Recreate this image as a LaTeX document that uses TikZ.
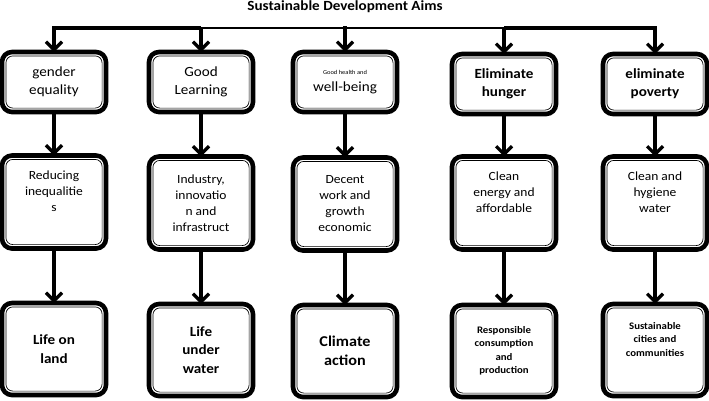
\documentclass[tikz,border=0pt]{standalone}
\usepackage{fontspec}
\setmainfont{Carlito}[FakeStretch=1.08]
\usetikzlibrary{arrows.meta}
\begin{document}
\begin{tikzpicture}[x=1pt,y=-1pt,
  box/.style={draw, line width=4.6pt, rounded corners=10pt, outer sep=0pt, align=center, minimum width=104pt, inner sep=2pt},
  topbox/.style={box, minimum height=60pt, font=\fontsize{14}{18}\selectfont},
  midbox/.style={box, minimum height=93pt, font=\fontsize{12.5}{16}\selectfont},
  botbox/.style={box, minimum height=92pt, font=\bfseries\fontsize{14}{18.5}\selectfont},
  smallbold/.style={font=\bfseries\fontsize{10}{13.5}\selectfont},
  arr/.style={line width=3.2pt, -{Straight Barb[length=8pt,width=16pt]}},
  busline/.style={line width=2.6pt}]
\useasboundingbox (0,0) rectangle (709,400);
\node[font=\bfseries\fontsize{14}{16}\selectfont] (title) at (345,7) {Sustainable Development Aims};
% top row
\node[topbox] (t1) at (54,82) {gender\\equality};
\node[topbox] (t2) at (201,82) {Good\\Learning};
\node[topbox] (t3) at (345,82) {{\fontsize{6}{7}\selectfont Good health and}\\[-1pt]well-being};
\node[topbox, font=\bfseries\fontsize{14}{18}\selectfont] (t4) at (504,84) {Eliminate\\hunger};
\node[topbox, font=\bfseries\fontsize{14}{18}\selectfont] (t5) at (655,84) {eliminate\\poverty};
% middle row
\node[midbox] (m1) at (54,202) {Reducing\\inequalitie\\s\\\strut};
\node[midbox] (m2) at (201,203) {Industry,\\innovatio\\n and\\infrastruct};
\node[midbox] (m3) at (345,204) {Decent\\work and\\growth\\economic};
\node[midbox] (m4) at (504,203) {Clean\\energy and\\affordable\\\strut};
\node[midbox] (m5) at (655,203) {Clean and\\hygiene\\water\\\strut};
% bottom row
\node[botbox] (b1) at (54,349) {Life on\\land};
\node[botbox] (b2) at (201,350) {Life\\under\\water};
\node[botbox, font=\bfseries\fontsize{15}{19}\selectfont] (b3) at (345,351) {Climate\\action};
\node[botbox, smallbold] (b4) at (504,351) {Responsible\\consumption\\and\\production};
\node[botbox, smallbold] (b5) at (655,350) {Sustainable\\cities and\\communities\\[4pt]\strut};
% inner thin border lines
\foreach \n in {t1,t2,t3,t4,t5,m1,m2,m3,m4,m5,b1,b2,b3,b4,b5}
  \draw[line width=0.7pt, rounded corners=7pt] ([shift={(3.9pt,3.9pt)}]\n.south west) rectangle ([shift={(-3.9pt,-3.9pt)}]\n.north east);
% bus
\coordinate (c1) at (54,28);
\coordinate (c2) at (201,28);
\coordinate (c3) at (345,28);
\coordinate (c4) at (504,28);
\coordinate (c5) at (655,28);
\draw[busline] (c2) -- (c4);
\draw[arr, line join=miter] (c2) -- (c1) -- (t1);
\draw[arr, line join=miter] (c4) -- (c5) -- (t5);
\draw[arr] (c2) -- (t2);
\draw[arr] ([yshift=2pt]c3) -- (t3);
\draw[arr] (c4) -- (t4);
% vertical connectors
\foreach \i in {1,...,5} {
  \draw[arr] (t\i) -- (m\i);
  \draw[arr] (m\i) -- (b\i);
}
\end{tikzpicture}
\end{document}
